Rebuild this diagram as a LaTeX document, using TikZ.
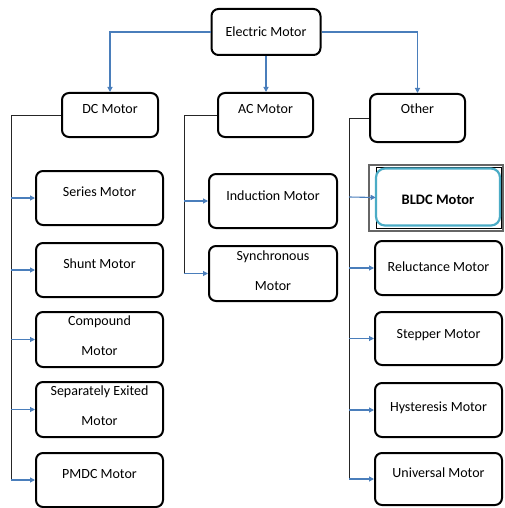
\documentclass[tikz,border=0pt]{standalone}
\usepackage{fontspec}
\setmainfont{Carlito}
\usetikzlibrary{arrows.meta}
\definecolor{arrblue}{HTML}{4A7EBB}
\definecolor{teal1}{HTML}{4BACC6}
\tikzset{
  box/.style={draw=black, line width=2pt, rounded corners=7pt, fill=white,
    inner sep=0pt, font=\fontsize{14}{16}\selectfont, text height=10pt},
  tpos/.style={text depth=#1},
  twol/.style={align=center, text height=40pt, text depth=#1, font=\fontsize{14}{30}\selectfont},
  arr/.style={draw=arrblue, line width=1.1pt, -{Triangle[width=5pt,length=5pt]}},
  trunk/.style={draw=black!85, line width=0.8pt},
}
\begin{document}
\begin{tikzpicture}[x=1pt,y=-1pt]
\useasboundingbox (0,0) rectangle (504,508);
% top level
\node[box, tpos=1.2pt, minimum width=109pt, minimum height=46pt] (em) at (266,32) {Electric Motor};
\node[box, tpos=13.2pt, minimum width=96pt, minimum height=44pt] (dc) at (110,115) {DC Motor};
\node[box, tpos=13.2pt, minimum width=95pt, minimum height=44pt] (ac) at (265.5,115) {AC Motor};
\node[box, tpos=19.2pt, minimum width=95pt, minimum height=48pt] (oth) at (417.5,118) {Other};
% DC column
\node[box, tpos=13.2pt, minimum width=127pt, minimum height=54pt] (series) at (99.5,198) {Series Motor};
\node[box, tpos=13.2pt, minimum width=127pt, minimum height=54pt] (shunt) at (99.5,270) {Shunt Motor};
\node[box, twol=9pt, minimum width=127pt, minimum height=55pt] (comp) at (99.5,339.5) {Compound\\Motor};
\node[box, twol=8pt, minimum width=127pt, minimum height=55pt] (sep) at (99.5,409.5) {Separately Exited\\Motor};
\node[box, tpos=13.2pt, minimum width=127pt, minimum height=54pt] (pmdc) at (99.5,480) {PMDC Motor};
% AC column
\node[box, tpos=11.2pt, minimum width=128pt, minimum height=54pt] (ind) at (273,201) {Induction Motor};
\node[box, twol=6.2pt, minimum width=128pt, minimum height=55pt] (syn) at (273,273.5) {Synchronous\\Motor};
% Other column
\node[draw=black!60, line width=1.2pt, minimum width=134pt, minimum height=66pt, inner sep=0pt] (bldcframe) at (436,198) {};
\node[draw=black, line width=0.6pt, minimum width=125pt, minimum height=61pt, inner sep=0pt] (bldcsel) at (438.5,197.5) {};
\node[box, draw=teal1, line width=2.2pt, rounded corners=9pt, text height=17pt, tpos=1.2pt,
  font=\fontsize{14.5}{16}\selectfont\bfseries, minimum width=124pt, minimum height=57pt] (bldc) at (438,197) {BLDC Motor};
\node[box, tpos=3.2pt, minimum width=127pt, minimum height=54pt] (rel) at (438.5,268) {Reluctance Motor};
\node[box, tpos=10.2pt, minimum width=127pt, minimum height=53pt] (step1) at (438.5,338.5) {Stepper Motor};
\node[box, tpos=7.2pt, minimum width=127pt, minimum height=54pt] (hys) at (438.5,410) {Hysteresis Motor};
\node[box, tpos=13.2pt, minimum width=127pt, minimum height=52pt] (uni) at (438.5,479) {Universal Motor};
% top connectors
\draw[arr] (em.west) -| (dc.north);
\draw[arr] (em.south) -- (em.south |- ac.north);
\draw[arr] (em.east) -| (oth.north);
% trunks
\coordinate (dcx) at (11,0);
\coordinate (acx) at (184,0);
\coordinate (otx) at (349,0);
\draw[trunk] (dc.west) -| (dcx |- pmdc.west);
\draw[trunk] (ac.west) -| (acx |- syn.west);
\draw[trunk] (oth.west) -| (otx |- uni.west);
% branch arrows
\foreach \n in {series,shunt,comp,sep,pmdc} \draw[arr] (dcx |- \n.west) -- (\n.west);
\foreach \n in {ind,syn} \draw[arr] (acx |- \n.west) -- (\n.west);
\draw[arr] (otx |- bldc.west) -- (bldcsel.west);
\foreach \n in {rel,step1,hys,uni} \draw[arr] (otx |- \n.west) -- (\n.west);
\end{tikzpicture}
\end{document}
